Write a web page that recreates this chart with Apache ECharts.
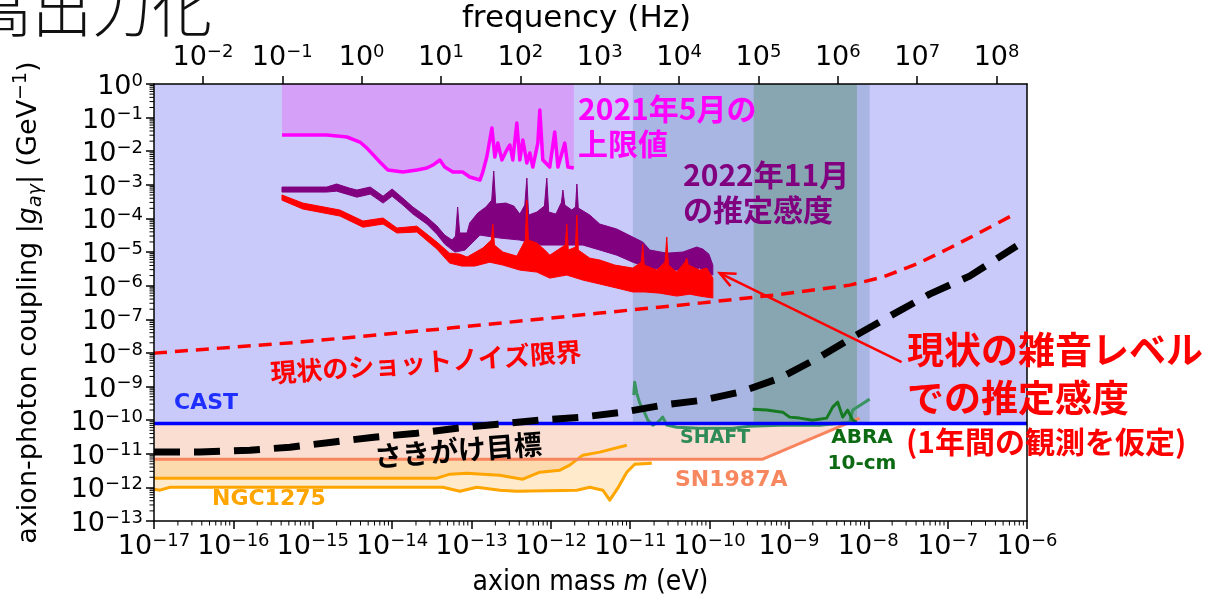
<!DOCTYPE html>
<html>
<head>
<meta charset="utf-8">
<script src="https://cdn.jsdelivr.net/npm/echarts@6.0.0/dist/echarts.min.js"></script>
<style>
  html, body { margin: 0; padding: 0; background: #fff; }
  #chart { width: 1210px; height: 597px; }
</style>
</head>
<body>
<div id="chart"></div>
<script>
// ---- axis ranges and tick exponents ----
const massRange = [1e-17, 1e-6];          // eV
const couplingRange = [1e-13, 1];         // GeV^-1
const massTickExps = [-17, -16, -15, -14, -13, -12, -11, -10, -9, -8, -7, -6];
const couplingTickExps = [-13, -12, -11, -10, -9, -8, -7, -6, -5, -4, -3, -2, -1, 0];
const freqTickExps = [-2, -1, 0, 1, 2, 3, 4, 5, 6, 7, 8];
const PLANCK_EV_S = 4.135667696e-15;      // f = m / h

// ---- curves: [axion mass (eV), coupling (GeV^-1)] ----
const castLimit = 8.0e-11;
const sn1987a = [[1e-17, 6.9e-12], [4.68e-10, 6.9e-12], [7.79e-9, 1.15e-10]];
const ngc1275Upper = [
  [1e-17, 1.88e-12], [3.67e-14, 1.88e-12], [5.35e-14, 2.47e-12], [8.75e-14, 2.65e-12],
  [1.39e-13, 2.47e-12], [2.28e-13, 2.31e-12], [3.73e-13, 1.88e-12], [4.44e-13, 1.75e-12],
  [7.27e-13, 2.83e-12], [1.30e-12, 3.25e-12], [1.73e-12, 4.58e-12], [2.53e-12, 9.08e-12],
  [4.14e-12, 1.12e-11], [9.06e-12, 1.80e-11]
];
const ngc1275Lower = [
  [1e-17, 8.84e-13], [1.19e-17, 8.26e-13], [1.59e-17, 1.01e-12], [4.36e-14, 1.01e-12],
  [7.14e-14, 7.71e-13], [1.17e-13, 1.01e-12], [2.28e-13, 8.26e-13], [3.73e-13, 7.71e-13],
  [2.13e-12, 8.26e-13], [3.10e-12, 1.01e-12], [4.52e-12, 8.26e-13], [5.53e-12, 4.16e-13],
  [6.98e-12, 9.46e-13], [9.06e-12, 2.83e-12], [1.14e-11, 4.90e-12], [1.87e-11, 5.25e-12]
];
const limit2021 = [
  [4.1e-16, 3.03e-2], [1.5e-15, 3.03e-2], [2.7e-15, 2.65e-2], [3.93e-15, 1.88e-2],
  [4.82e-15, 1.24e-2], [7.02e-15, 4.77e-3], [8.85e-15, 2.76e-3], [1.37e-14, 2.4e-3],
  [2.05e-14, 2.76e-3], [2.74e-14, 3.16e-3], [3.27e-14, 3.88e-3], [4.0e-14, 5.47e-3],
  [4.6e-14, 3.39e-3], [5.83e-14, 2.4e-3], [7.79e-14, 2.4e-3], [9.5e-14, 1.71e-3],
  [1.28e-13, 1.39e-3], [1.39e-13, 2.4e-3], [1.56e-13, 6.72e-3], [1.81e-13, 4.9e-2],
  [1.97e-13, 6.72e-3], [2.15e-13, 1.75e-2], [2.42e-13, 5.47e-3], [2.79e-13, 1.09e-2],
  [3.05e-13, 1.53e-2], [3.32e-13, 5.47e-3], [3.73e-13, 6.9e-2], [4.07e-13, 5.47e-3],
  [4.44e-13, 2.15e-2], [4.99e-13, 4.46e-3], [5.44e-13, 8.83e-3], [5.93e-13, 3.39e-3],
  [6.86e-13, 1.75e-2], [7.27e-13, 0.168], [7.93e-13, 5.47e-3], [9.7e-13, 3.39e-3],
  [1.12e-12, 3.73e-2], [1.23e-12, 3.39e-3], [1.5e-12, 1.75e-2], [1.64e-12, 3.39e-3],
  [1.95e-12, 3.16e-3]
];
// 2022-11 estimated sensitivity: upper edge (left to right), lower edge (right to left)
const estimate2022Upper = [
  [4.1e-16, 8.6e-4], [6.9e-16, 8.6e-4], [1.5e-15, 8.6e-4], [2.0e-15, 1.06e-3], [2.9e-15, 8.0e-4],
  [3.6e-15, 7.0e-4], [5.3e-15, 8.6e-4], [7.7e-15, 4.6e-4], [1.0e-14, 7.5e-4], [1.37e-14, 4.0e-4],
  [1.83e-14, 2.18e-4], [2.74e-14, 1.1e-4], [3.67e-14, 6.0e-5], [4.6e-14, 3.2e-5], [5.7e-14, 2.28e-5],
  [6.3e-14, 3.0e-5], [6.7e-14, 2.18e-4], [7.1e-14, 3.7e-5], [8.8e-14, 3.7e-5], [9.5e-14, 7.3e-5],
  [1.2e-13, 1.45e-4], [1.52e-13, 2.18e-4], [1.8e-13, 3.5e-4], [1.91e-13, 2.58e-3], [2.02e-13, 2.68e-4],
  [2.71e-13, 2.87e-4], [3.42e-13, 2.34e-4], [4.07e-13, 1.35e-4], [4.7e-13, 2.5e-4], [4.99e-13, 1.59e-3],
  [5.25e-13, 1.26e-4], [6.66e-13, 1.55e-4], [8.3e-13, 2.34e-4], [8.9e-13, 1.59e-3], [9.4e-13, 1.55e-4],
  [1.16e-12, 1.35e-4], [1.36e-12, 3.0e-4], [1.42e-12, 7.0e-4], [1.5e-12, 2.5e-4], [1.84e-12, 1.78e-4],
  [2.05e-12, 2.2e-4], [2.13e-12, 1.06e-3], [2.22e-12, 2.04e-4], [3.1e-12, 1.26e-4], [4.14e-12, 6.8e-5],
  [6.78e-12, 4.84e-5], [1.08e-11, 2.79e-5], [1.44e-11, 1.99e-5], [1.77e-11, 1.15e-5], [2.89e-11, 9.3e-6],
  [4.6e-11, 1.0e-5], [6.9e-11, 1.41e-5], [8.2e-11, 1.23e-5], [9.8e-11, 8.7e-6], [1.1e-10, 4.1e-6]
];
const estimate2022Lower = [
  [1.1e-10, 2.07e-6], [7.5e-11, 3.34e-6], [4.6e-11, 2.91e-6], [2.89e-11, 2.91e-6], [1.77e-11, 3.34e-6],
  [1.08e-11, 5.0e-6], [6.78e-12, 8.1e-6], [4.14e-12, 1.15e-5], [2.53e-12, 1.62e-5], [1.3e-12, 1.62e-5],
  [7.27e-13, 1.62e-5], [4.07e-13, 2.28e-5], [2.28e-13, 2.61e-5], [1.28e-13, 3.2e-5], [8.3e-14, 1.15e-5],
  [6.2e-14, 1.0e-5], [4.6e-14, 1.73e-5], [3.67e-14, 3.4e-5], [2.74e-14, 6.8e-5], [1.83e-14, 1.35e-4],
  [1.37e-14, 2.5e-4], [1.0e-14, 4.6e-4], [7.7e-15, 2.87e-4], [5.3e-15, 5.3e-4], [3.6e-15, 4.3e-4],
  [2.9e-15, 5.0e-4], [2.0e-15, 6.5e-4], [1.5e-15, 6.1e-4], [6.9e-16, 6.1e-4], [4.1e-16, 6.1e-4]
];
// sensitivity at the current noise level: upper edge, lower edge
const currentNoiseUpper = [
  [4.1e-16, 5.0e-4], [7.5e-16, 2.87e-4], [2.2e-15, 1.78e-4], [4.3e-15, 8.4e-5], [7.7e-15, 1.03e-4],
  [1.15e-14, 5.2e-5], [2.05e-14, 5.9e-5], [3.67e-14, 1.99e-5], [5.3e-14, 9.3e-6], [7.1e-14, 8.7e-6],
  [8.8e-14, 7.1e-6], [1.39e-13, 1.32e-5], [1.78e-13, 2.28e-5], [1.86e-13, 6.8e-5], [1.95e-13, 1.62e-5],
  [2.49e-13, 1.0e-5], [3.73e-13, 7.6e-6], [4.77e-13, 2.28e-5], [4.99e-13, 3.5e-4], [5.21e-13, 2.28e-5],
  [6.66e-13, 1.85e-5], [8.4e-13, 1.15e-5], [9.7e-13, 8.1e-6], [1.52e-12, 1.62e-5], [1.59e-12, 6.8e-5],
  [1.66e-12, 1.15e-5], [2.04e-12, 1.4e-5], [2.13e-12, 1.26e-4], [2.22e-12, 1.15e-5], [3.1e-12, 6.6e-6],
  [4.14e-12, 5.8e-6], [6.4e-12, 4.1e-6], [1.08e-11, 3.34e-6], [1.38e-11, 5.0e-6], [1.44e-11, 1.73e-5],
  [1.5e-11, 4.1e-6], [2.16e-11, 2.91e-6], [2.75e-11, 5.0e-6], [2.89e-11, 2.79e-5], [3.03e-11, 4.1e-6],
  [3.86e-11, 2.54e-6], [4.9e-11, 5.0e-6], [5.16e-11, 6.6e-6], [5.4e-11, 4.1e-6], [7.5e-11, 2.91e-6],
  [9.2e-11, 3.34e-6], [1.1e-10, 1.68e-6]
];
const currentNoiseLower = [
  [1.1e-10, 4.3e-7], [7.5e-11, 4.9e-7], [5.63e-11, 5.6e-7], [3.86e-11, 4.9e-7], [2.36e-11, 6.0e-7],
  [1.53e-11, 6.5e-7], [1.08e-11, 6.5e-7], [6.78e-12, 8.5e-7], [4.14e-12, 1.12e-6], [2.53e-12, 1.47e-6],
  [1.59e-12, 2.07e-6], [9.7e-13, 1.68e-6], [6.66e-13, 2.54e-6], [4.07e-13, 2.91e-6], [2.49e-13, 4.1e-6],
  [1.7e-13, 5.0e-6], [1.1e-13, 3.83e-6], [7.6e-14, 3.83e-6], [5.3e-14, 4.7e-6], [3.67e-14, 1.23e-5],
  [2.05e-14, 3.94e-5], [1.15e-14, 3.7e-5], [7.7e-15, 6.8e-5], [4.3e-15, 5.5e-5], [2.2e-15, 1.18e-4],
  [7.5e-16, 1.91e-4], [4.1e-16, 3.5e-4]
];
const shotNoiseLimit = [
  [1e-17, 9.86e-9], [6.9e-16, 2.1e-8], [5.35e-14, 5.47e-8], [4.14e-12, 1.53e-7], [7.53e-11, 3.03e-7],
  [8.36e-10, 5.62e-7], [5.83e-9, 1.04e-6], [1.52e-8, 1.8e-6], [4.07e-8, 4.4e-6], [1.06e-7, 1.32e-5],
  [2.76e-7, 4.22e-5], [7.4e-7, 1.45e-4]
];
const sakigakeTarget = [
  [1e-17, 1.12e-11], [3.8e-17, 1.12e-11], [1.62e-16, 1.28e-11], [5.16e-16, 1.57e-11], [1.74e-15, 2.21e-11],
  [5.9e-15, 3.12e-11], [2.05e-14, 4.1e-11], [6.55e-14, 5.78e-11], [2.15e-13, 7.6e-11], [7.27e-13, 1.0e-10],
  [2.46e-12, 1.23e-10], [8.07e-12, 1.73e-10], [2.57e-11, 2.79e-10], [8.21e-11, 3.94e-10], [2.4e-10, 6.81e-10],
  [7.66e-10, 1.78e-9], [2.44e-9, 7.5e-9], [6.74e-9, 3.16e-8], [1.97e-8, 1.33e-7], [5.93e-8, 5.62e-7],
  [1.89e-7, 1.93e-6], [7.4e-7, 1.51e-5]
];
const shaft = [
  [1.11e-11, 5.55e-10], [1.14e-11, 1.35e-9], [1.21e-11, 6.37e-10], [1.32e-11, 3.21e-10], [1.53e-11, 1.61e-10],
  [1.67e-11, 1.0e-10], [1.93e-11, 7.1e-11], [2.23e-11, 8.71e-11], [2.57e-11, 1.23e-10], [2.89e-11, 7.1e-11],
  [3.86e-11, 6.19e-11], [7.53e-11, 5.78e-11], [1.96e-10, 5.78e-11], [3.21e-10, 6.62e-11], [7.66e-10, 7.1e-11],
  [2.44e-9, 7.1e-11], [5.83e-9, 8.71e-11], [6.36e-9, 1.99e-10], [8.26e-9, 2.99e-10], [1.04e-8, 4.22e-10]
];
const abra10cm = [
  [3.5e-10, 2.12e-10], [5.25e-10, 1.99e-10], [8.36e-10, 1.73e-10], [1.02e-9, 1.23e-10], [1.37e-9, 1.15e-10],
  [1.99e-9, 1.0e-10], [2.99e-9, 1.15e-10], [3.56e-9, 2.44e-10], [4.12e-9, 3.44e-10], [4.76e-9, 1.23e-10],
  [5.5e-9, 1.99e-10], [6.36e-9, 1.0e-10], [7.14e-9, 8.71e-11]
];
// mass windows of the two haloscopes (shaded above the CAST bound)
const shaftWindow = [1.08e-11, 1.04e-8];
const abraWindow = [3.6e-10, 7.2e-9];
// arrow: from the caption to the end of the current-noise curve
const arrowTail = [2.63e-8, 5.32e-9];
const arrowTip = [1.34e-10, 2.37e-6];

// ---- helpers ----
const lg = Math.log10;
const toLog = pts => pts.map(([m, g]) => [lg(m), lg(g)]);
const expText = n => String(Math.round(n)).replace('-', '\u2212');
const LATIN = "'DejaVu Sans', sans-serif";
const LATIN_NARROW = "'DejaVu Sans Condensed', 'DejaVu Sans', sans-serif";
const JP = "'Noto Sans CJK JP', sans-serif";

const powRich = {
  b: { fontSize: 27, fontFamily: LATIN, color: '#000', lineHeight: 30 },
  sup: { fontSize: 18, fontFamily: LATIN, color: '#000', lineHeight: 14, verticalAlign: 'top' }
};
const powLabel = v => `{b|10}{sup|${expText(v)}}`;

const base = { type: 'line', symbol: 'none', showSymbol: false, silent: true, animation: false,
               xAxisIndex: 0, yAxisIndex: 0, clip: true };

function lineSeries(name, pts, color, width, z, dash) {
  return Object.assign({}, base, {
    name, z, data: toLog(pts),
    lineStyle: { color, width, type: dash || 'solid', cap: 'butt', join: 'round' }
  });
}
function fillSeries(name, pts, color, z) {
  return Object.assign({}, base, {
    name, z, data: toLog(pts),
    lineStyle: { width: 0, opacity: 0 },
    areaStyle: { color, opacity: 1, origin: 'end' }
  });
}
function bandPolygon(name, upper, lower, color, z) {
  const outline = toLog(upper.concat(lower));
  return {
    name, type: 'custom', z, silent: true, animation: false,
    xAxisIndex: 0, yAxisIndex: 0,
    data: [outline[0]],
    renderItem: (params, api) => ({
      type: 'polygon',
      shape: { points: outline.map(p => api.coord(p)) },
      style: { fill: color, stroke: color, lineWidth: 1, lineJoin: 'miter' }
    })
  };
}

const castLine = [[massRange[0], castLimit], [massRange[1], castLimit]];
const minorMass = [];
for (let n = -17; n < -6; n++) for (let k = 2; k <= 9; k++) minorMass.push([n + lg(k)]);
const minorCoupling = [];
for (let n = -13; n < 0; n++) for (let k = 2; k <= 9; k++) minorCoupling.push([n + lg(k)]);

const windows = [
  { range: shaftWindow, color: '#A9B5E2' },
  { range: abraWindow, color: '#88A6B2' }
];

const chart = echarts.init(document.getElementById('chart'), null, { renderer: 'canvas' });

const axisLineStyle = { onZero: false, lineStyle: { color: '#000', width: 1.5 } };

const option = {
  animation: false,
  backgroundColor: '#fff',
  grid: { left: 154, right: 183, top: 84, bottom: 76, containLabel: false, outerBoundsMode: 'none' },
  xAxis: [
    {
      type: 'value', position: 'bottom', z: 30,
      min: lg(massRange[0]), max: lg(massRange[1]), interval: 1,
      axisLine: axisLineStyle,
      axisTick: { inside: false, length: 8, lineStyle: { color: '#000', width: 1.5 } },
      axisLabel: { margin: 11, formatter: powLabel, rich: powRich },
      splitLine: { show: false },
      name: 'axion mass {i|m} (eV)', nameLocation: 'middle', nameGap: 46,
      nameTextStyle: {
        fontSize: 28, fontFamily: LATIN_NARROW, color: '#000', lineHeight: 32,
        rich: { i: { fontSize: 28, fontStyle: 'italic', fontFamily: LATIN_NARROW, color: '#000', lineHeight: 32 } }
      }
    },
    {
      type: 'value', position: 'top', z: 30,
      min: lg(massRange[0] / PLANCK_EV_S), max: lg(massRange[1] / PLANCK_EV_S),
      axisLine: axisLineStyle,
      axisTick: { inside: false, length: 8, customValues: freqTickExps, lineStyle: { color: '#000', width: 1.5 } },
      axisLabel: { margin: 11, customValues: freqTickExps, formatter: powLabel, rich: powRich },
      splitLine: { show: false },
      name: 'frequency (Hz)', nameLocation: 'middle', nameGap: 49,
      nameTextStyle: { fontSize: 31, fontFamily: LATIN, color: '#000', lineHeight: 32, padding: [0, 28, 0, 0] }
    }
  ],
  yAxis: [
    {
      type: 'value', position: 'left', z: 30,
      min: lg(couplingRange[0]), max: lg(couplingRange[1]), interval: 1,
      axisLine: axisLineStyle,
      axisTick: { inside: false, length: 8, lineStyle: { color: '#000', width: 1.5 } },
      axisLabel: { margin: 11, padding: [6, 0, 0, 0], formatter: powLabel, rich: powRich },
      splitLine: { show: false },
      name: 'axion-photon coupling |{i|g}{sub|a\u03b3}| (GeV{sup|\u22121})',
      nameLocation: 'middle', nameGap: 108,
      nameTextStyle: {
        fontSize: 27, fontFamily: LATIN, color: '#000', lineHeight: 34,
        rich: {
          i: { fontSize: 27, fontStyle: 'italic', fontFamily: LATIN, color: '#000', lineHeight: 34 },
          sub: { fontSize: 19, fontStyle: 'italic', fontFamily: LATIN, color: '#000', lineHeight: 18, verticalAlign: 'bottom' },
          sup: { fontSize: 19, fontFamily: LATIN, color: '#000', lineHeight: 18, verticalAlign: 'top' }
        }
      }
    },
    {
      type: 'value', position: 'right', z: 30,
      min: lg(couplingRange[0]), max: lg(couplingRange[1]),
      axisLine: axisLineStyle, axisTick: { show: false }, axisLabel: { show: false },
      splitLine: { show: false }
    }
  ],
  series: [
    // shaded exclusion regions
    fillSeries('NGC1275 lower', ngc1275Lower, '#FFEACB', 1),
    fillSeries('NGC1275 upper', ngc1275Upper, '#FCDAAE', 2),
    fillSeries('SN1987A', sn1987a, '#FBDED2', 3),
    fillSeries('CAST', castLine, '#C9C9FA', 4),
    fillSeries('2021 limit', limit2021, '#D5A0F8', 5),
    {
      name: 'haloscope windows', type: 'custom', z: 6, silent: true, animation: false,
      xAxisIndex: 0, yAxisIndex: 0, encode: { x: [0, 1] },
      data: windows.map(w => [lg(w.range[0]), lg(w.range[1])]),
      renderItem: (params, api) => {
        const p0 = api.coord([api.value(0), lg(castLimit)]);
        const p1 = api.coord([api.value(1), lg(couplingRange[1])]);
        return {
          type: 'rect',
          shape: { x: p0[0], y: p1[1], width: p1[0] - p0[0], height: p0[1] - p1[1] },
          style: { fill: windows[params.dataIndex].color }
        };
      }
    },
    // bounds and projections
    lineSeries('NGC1275 lower line', ngc1275Lower, '#FFA500', 3, 10),
    lineSeries('NGC1275 upper line', ngc1275Upper, '#FFA500', 3, 10),
    lineSeries('SN1987A line', sn1987a, '#F8845E', 3, 10),
    lineSeries('SHAFT', shaft, '#3A9461', 3, 11),
    lineSeries('ABRA 10-cm', abra10cm, '#167A22', 3, 11),
    lineSeries('CAST line', castLine, '#0000FF', 3.5, 12),
    lineSeries('Sakigake target', sakigakeTarget, '#000000', 7, 13, [26, 14]),
    lineSeries('Shot-noise limit', shotNoiseLimit, '#FF0000', 3.5, 13, [13, 8]),
    lineSeries('2021 limit line', limit2021, '#FF00FF', 3.5, 14),
    bandPolygon('2022 estimate', estimate2022Upper, estimate2022Lower, '#800080', 15),
    bandPolygon('current noise', currentNoiseUpper, currentNoiseLower, '#FF0000', 16),
    {
      name: 'arrow', type: 'custom', z: 17, silent: true, animation: false,
      xAxisIndex: 0, yAxisIndex: 0, encode: { x: [0, 2], y: [1, 3] },
      data: [[lg(arrowTail[0]), lg(arrowTail[1]), lg(arrowTip[0]), lg(arrowTip[1])]],
      renderItem: (params, api) => {
        const a = api.coord([api.value(0), api.value(1)]);
        const b = api.coord([api.value(2), api.value(3)]);
        const ang = Math.atan2(a[1] - b[1], a[0] - b[0]);
        const len = 17, spread = 0.42;
        const h1 = [b[0] + len * Math.cos(ang + spread), b[1] + len * Math.sin(ang + spread)];
        const h2 = [b[0] + len * Math.cos(ang - spread), b[1] + len * Math.sin(ang - spread)];
        return {
          type: 'group',
          children: [
            { type: 'line', shape: { x1: a[0], y1: a[1], x2: b[0], y2: b[1] }, style: { stroke: '#FF0000', lineWidth: 2.5 } },
            { type: 'polyline', shape: { points: [h1, b, h2] }, style: { stroke: '#FF0000', lineWidth: 2.5, fill: null } }
          ]
        };
      }
    },
    // log minor ticks on the bottom and left axes
    {
      name: 'mass minor ticks', type: 'custom', z: 30, silent: true, animation: false,
      xAxisIndex: 0, yAxisIndex: 0, encode: { x: 0 },
      data: minorMass,
      renderItem: (params, api) => {
        const p = api.coord([api.value(0), lg(couplingRange[0])]);
        return { type: 'line', shape: { x1: p[0], y1: p[1], x2: p[0], y2: p[1] + 4.5 }, style: { stroke: '#000', lineWidth: 1 } };
      }
    },
    {
      name: 'coupling minor ticks', type: 'custom', z: 30, silent: true, animation: false,
      xAxisIndex: 0, yAxisIndex: 0, encode: { y: 0 },
      data: minorCoupling,
      renderItem: (params, api) => {
        const p = api.coord([lg(massRange[0]), api.value(0)]);
        return { type: 'line', shape: { x1: p[0] - 4.5, y1: p[1], x2: p[0], y2: p[1] }, style: { stroke: '#000', lineWidth: 1 } };
      }
    }
  ],
  graphic: [
    { type: 'text', z: 100, x: -28, y: 39,
      style: { text: '高出力化', fill: '#111', font: `300 60px ${JP}`, textVerticalAlign: 'bottom' } },
    { type: 'text', z: 100, x: 578, y: 126.5,
      style: { text: '2021年5月の\n上限値', fill: '#FF00FF', font: `bold 30px ${JP}`, lineHeight: 35,
               textAlign: 'left', textVerticalAlign: 'middle' } },
    { type: 'text', z: 100, x: 683, y: 192.5,
      style: { text: '2022年11月\nの推定感度', fill: '#800080', font: `bold 30px ${JP}`, lineHeight: 35,
               textAlign: 'left', textVerticalAlign: 'middle' } },
    { type: 'text', z: 100, x: 426, y: 362, rotation: 4 * Math.PI / 180,
      style: { text: '現状のショットノイズ限界', fill: '#FF0000', font: `bold 26px ${JP}`,
               textAlign: 'center', textVerticalAlign: 'middle' } },
    { type: 'text', z: 100, x: 458, y: 450, rotation: 4.5 * Math.PI / 180,
      style: { text: 'さきがけ目標', fill: '#000', font: `bold 28px ${JP}`,
               textAlign: 'center', textVerticalAlign: 'middle' } },
    { type: 'text', z: 100, x: 174, y: 403,
      style: { text: 'CAST', fill: '#1F2FFF', font: `bold 22px ${LATIN}`, textAlign: 'left', textVerticalAlign: 'middle' } },
    { type: 'text', z: 100, x: 212, y: 499,
      style: { text: 'NGC1275', fill: '#FFA500', font: `bold 22px ${LATIN}`, textAlign: 'left', textVerticalAlign: 'middle' } },
    { type: 'text', z: 100, x: 680, y: 438,
      style: { text: 'SHAFT', fill: '#2E8B57', font: `bold 19px ${LATIN}`, textAlign: 'left', textVerticalAlign: 'middle' } },
    { type: 'text', z: 100, x: 675, y: 480,
      style: { text: 'SN1987A', fill: '#F7875F', font: `bold 22px ${LATIN}`, textAlign: 'left', textVerticalAlign: 'middle' } },
    { type: 'text', z: 100, x: 862, y: 451,
      style: { text: 'ABRA\n10-cm', fill: '#0B6A12', font: `bold 20px ${LATIN}`, lineHeight: 26,
               textAlign: 'center', textVerticalAlign: 'middle' } },
    { type: 'text', z: 100, x: 907, y: 374,
      style: { text: '現状の雑音レベル\nでの推定感度', fill: '#FF0000', font: `bold 37px ${JP}`, lineHeight: 48,
               textAlign: 'left', textVerticalAlign: 'middle' } },
    { type: 'text', z: 100, x: 906, y: 442,
      style: { text: '(1年間の観測を仮定)', fill: '#FF0000', font: `bold 30px ${JP}`,
               textAlign: 'left', textVerticalAlign: 'middle' } }
  ]
};

chart.setOption(option);
</script>
</body>
</html>
